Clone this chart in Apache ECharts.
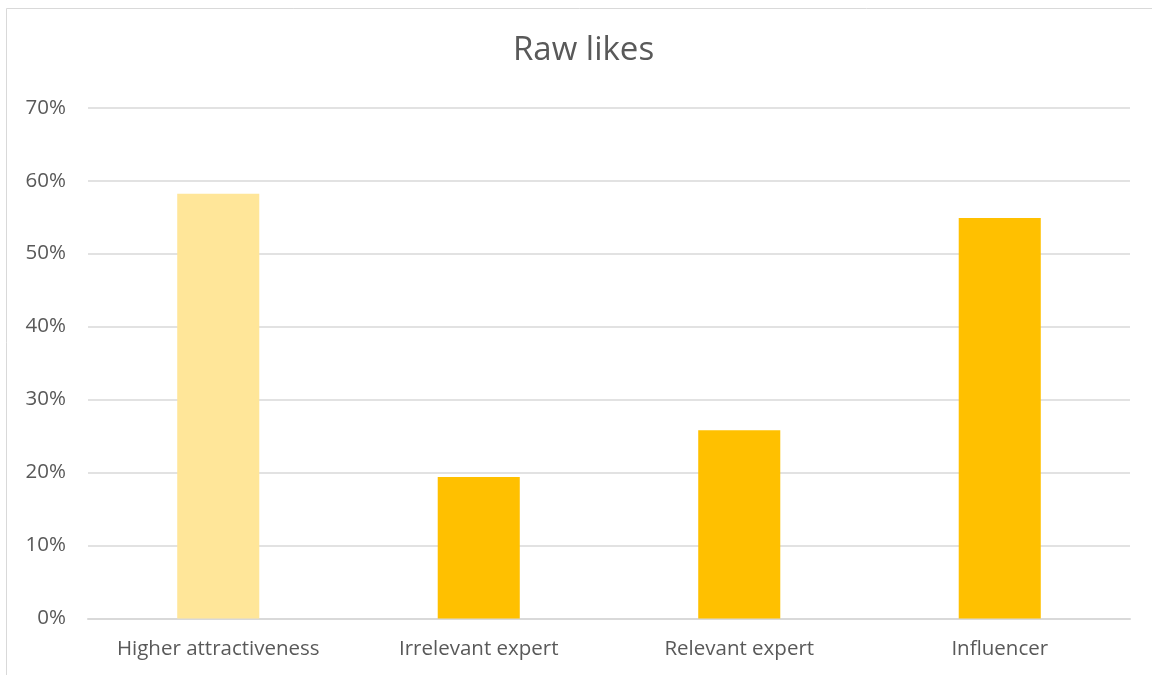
<!DOCTYPE html>
<html>
<head>
<meta charset="utf-8">
<script src="https://cdn.jsdelivr.net/npm/echarts@6/dist/echarts.min.js"></script>
<style>
  html, body { margin: 0; padding: 0; background: #fff; }
  #main { width: 1152px; height: 675px; }
</style>
</head>
<body>
<div id="main"></div>
<script>
const categories = ['Higher attractiveness', 'Irrelevant expert', 'Relevant expert', 'Influencer'];
const likes = [58.2, 19.4, 25.8, 54.9];
const barColors = ['#FFE699', '#FFC000', '#FFC000', '#FFC000'];
const yTicks = [0, 10, 20, 30, 40, 50, 60, 70];

const font = "'Open Sans', 'Noto Sans', sans-serif";
const chart = echarts.init(document.getElementById('main'));

chart.setOption({
  backgroundColor: '#fff',
  animation: false,
  graphic: [{
    type: 'rect',
    shape: { x: 6.5, y: 8.5, width: 1160, height: 700 },
    style: { fill: 'none', stroke: '#d9d9d9', lineWidth: 1 },
    silent: true
  }],
  title: {
    text: 'Raw likes',
    left: 508,
    top: 29,
    textStyle: { fontFamily: font, fontSize: 33, fontWeight: 'normal', color: '#595959' }
  },
  grid: { left: 88, right: 22, top: 107.7, bottom: 56.5, containLabel: false },
  xAxis: {
    type: 'category',
    data: categories,
    axisLine: { lineStyle: { color: '#d9d9d9', width: 2 } },
    axisTick: { show: false },
    axisLabel: { interval: 0, fontFamily: font, fontSize: 20.5, color: '#595959', margin: 20 }
  },
  yAxis: {
    type: 'value',
    min: yTicks[0],
    max: yTicks[yTicks.length - 1],
    interval: 10,
    axisLine: { show: false },
    axisTick: { show: false },
    splitLine: { lineStyle: { color: '#d9d9d9', width: 1.5 } },
    axisLabel: { fontFamily: font, fontSize: 20.5, color: '#595959', margin: 22, formatter: v => v + '%' }
  },
  series: [{
    type: 'bar',
    barWidth: '31.5%',
    data: likes.map((v, i) => ({ value: v, itemStyle: { color: barColors[i] } }))
  }]
});
</script>
</body>
</html>
